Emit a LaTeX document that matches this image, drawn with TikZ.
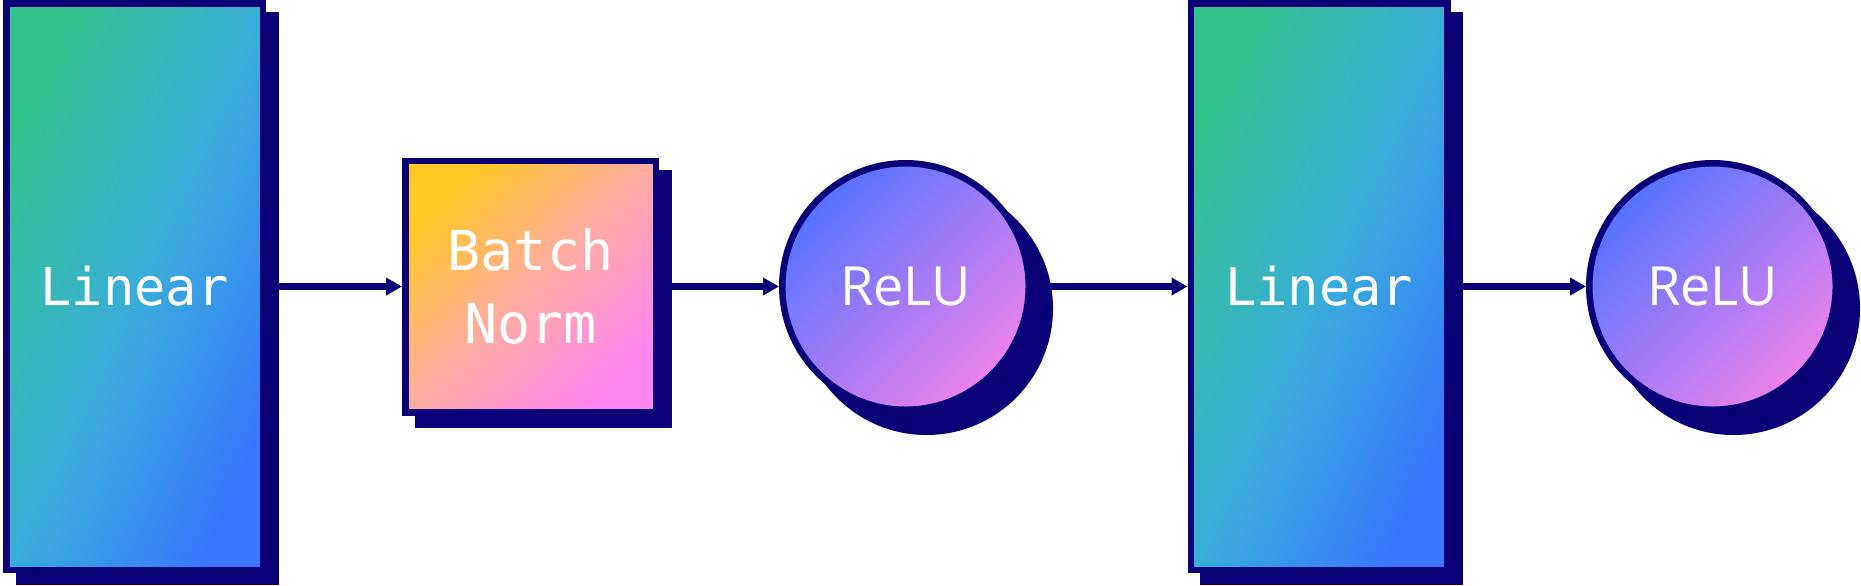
\documentclass[tikz,border=0pt]{standalone}
\usepackage{fontspec}
\setmonofont{DejaVu Sans Mono}
\newfontfamily\relufont{Open Sans}
\usetikzlibrary{positioning}
\usetikzlibrary{arrows.meta, shadows}
\definecolor{blocknavy}{RGB}{10,0,120}
\definecolor{lingreen}{RGB}{50,196,140}
\definecolor{lincyan}{RGB}{57,174,216}
\definecolor{linblue}{RGB}{58,120,255}
\definecolor{bnyellow}{RGB}{255,200,35}
\definecolor{bnpeach}{RGB}{255,172,162}
\definecolor{bnpink}{RGB}{255,135,240}
\definecolor{relublue}{RGB}{85,115,255}
\definecolor{relupink}{RGB}{235,130,235}
\tikzset{
	block/.style={ % rand og tekst for hvert lag
			draw=blocknavy,
			line width=3.25pt,
			text=white,
			inner sep=0pt
		},
	boxshadow/.style={drop shadow={shadow xshift=6.25pt, shadow yshift=-6pt,
			fill=blocknavy, draw=blocknavy, line width=3.25pt, opacity=1}},
	roundshadow/.style={drop shadow={shadow xshift=10.5pt, shadow yshift=-11pt,
			fill=blocknavy, draw=blocknavy, line width=3.25pt, opacity=1}},
	linear/.style={
			block, boxshadow, rectangle,
			minimum width=128.25pt, minimum height=283.25pt,
			top color=lingreen, bottom color=linblue, middle color=lincyan,
			shading angle=65.3,
			font=\ttfamily\fontsize{26pt}{36.5pt}\selectfont
		},
	batchnorm/.style={
			block, boxshadow, rectangle, align=center,
			minimum width=125.25pt, minimum height=125.75pt,
			top color=bnyellow, bottom color=bnpink, middle color=bnpeach,
			shading angle=45,
			font=\ttfamily\fontsize{27.5pt}{36.5pt}\selectfont
		},
	relu/.style={
			block, roundshadow, circle, minimum size=123.25pt,
			top color=relublue, bottom color=relupink, shading angle=45,
			font=\relufont\fontsize{27pt}{32pt}\selectfont
		},
	every edge/.style={ % pil mellem to lag
			draw=blocknavy,
			line width=3.25pt,
			-{Triangle[length=8pt, width=8.5pt]}
		}
}
\begin{document}
\begin{tikzpicture}[x=0.5pt, y=-0.5pt]
	\useasboundingbox (0,0) rectangle (1861,585);
	\node[linear] (lin1) at (134.5,286.5) {Linear};
	\node[batchnorm] (bn) at (530.5,286.5) {Batch\\Norm};
	\node[relu] (relu1) at (905.5,286.5) {ReLU};
	\node[linear] (lin2) at (1319,286.5) {Linear};
	\node[relu] (relu2) at (1712.5,286.5) {ReLU};
	\path (lin1) edge (bn)
		(bn) edge (relu1)
		(relu1) edge (lin2)
		(lin2) edge (relu2);
\end{tikzpicture}
\end{document}
